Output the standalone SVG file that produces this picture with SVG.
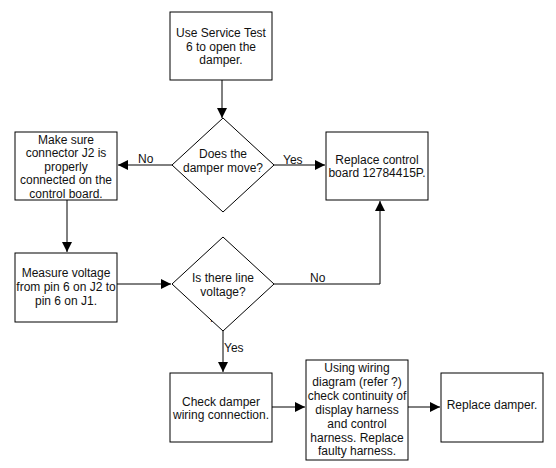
<svg xmlns="http://www.w3.org/2000/svg" width="556" height="468" viewBox="0 0 556 468">
<defs>
<marker id="ah" viewBox="0 0 10 10" refX="10" refY="5" markerWidth="10" markerHeight="10" markerUnits="userSpaceOnUse" orient="auto">
<path d="M0,0 L10,5 L0,10 Z" fill="#000"/>
</marker>
<style>
.n{fill:#fff;stroke:#000;stroke-width:1}
.t{font-family:"Liberation Sans",Arial,sans-serif;font-size:12px;fill:#111;text-anchor:middle}
.l{font-family:"Liberation Sans",Arial,sans-serif;font-size:12px;fill:#111}
.c{fill:none;stroke:#000;stroke-width:1}
</style>
</defs>
<rect width="556" height="468" fill="#fff"/>
<g id="connectors">
<line class="c" x1="222" y1="80" x2="222" y2="118" marker-end="url(#ah)"/>
<line class="c" x1="172" y1="165" x2="118" y2="165" marker-end="url(#ah)"/>
<line class="c" x1="274" y1="165" x2="325" y2="165" marker-end="url(#ah)"/>
<line class="c" x1="67" y1="200" x2="67" y2="252" marker-end="url(#ah)"/>
<line class="c" x1="117" y1="284" x2="171" y2="284" marker-end="url(#ah)"/>
<polyline class="c" points="274,284 380,284 380,201" marker-end="url(#ah)"/>
<line class="c" x1="223" y1="331" x2="223" y2="372" marker-end="url(#ah)"/>
<line class="c" x1="272" y1="407" x2="305" y2="407" marker-end="url(#ah)"/>
<line class="c" x1="408" y1="407" x2="440" y2="407" marker-end="url(#ah)"/>
<text class="l" x="138" y="163">No</text>
<text class="l" x="283" y="164">Yes</text>
<text class="l" x="310" y="282">No</text>
<text class="l" x="210" y="322">No</text>
<text class="l" x="224" y="352">Yes</text>
</g>
<g id="start">
<rect class="n" x="170" y="12" width="102" height="68"/>
<text class="t" x="221" y="36.5">Use Service Test</text>
<text class="t" x="221" y="50.5">6 to open the</text>
<text class="t" x="221" y="64">damper.</text>
</g>
<g id="d1">
<polygon class="n" points="223,118 274,165 223,212 172,165"/>
<text class="t" x="223" y="158">Does the</text>
<text class="t" x="223" y="171.5">damper move?</text>
</g>
<g id="checkJ2">
<rect class="n" x="15" y="132" width="102" height="68"/>
<text class="t" x="66" y="143.5">Make sure</text>
<text class="t" x="66" y="157">connector J2 is</text>
<text class="t" x="66" y="170.5">properly</text>
<text class="t" x="66" y="184">connected on the</text>
<text class="t" x="66" y="197.5">control board.</text>
</g>
<g id="replaceBoard">
<rect class="n" x="326" y="132" width="102" height="68"/>
<text class="t" x="377" y="163.5">Replace control</text>
<text class="t" x="377" y="177">board 12784415P.</text>
</g>
<g id="measure">
<rect class="n" x="15" y="253" width="102" height="69"/>
<text class="t" x="66" y="277">Measure voltage</text>
<text class="t" x="66" y="291">from pin 6 on J2 to</text>
<text class="t" x="66" y="305">pin 6 on J1.</text>
</g>
<g id="d2">
<polygon class="n" points="223,237 274,284 223,331 172,284"/>
<text class="t" x="223" y="281.5">Is there line</text>
<text class="t" x="223" y="295.5">voltage?</text>
</g>
<g id="checkWiring">
<rect class="n" x="170" y="373" width="102" height="69"/>
<text class="t" x="221" y="405.5">Check damper</text>
<text class="t" x="221" y="418.5">wiring connection.</text>
</g>
<g id="continuity">
<rect class="n" x="306" y="360" width="102" height="100"/>
<text class="t" x="357" y="372">Using wiring</text>
<text class="t" x="357" y="385.5">diagram (refer ?)</text>
<text class="t" x="357" y="399.5">check continuity of</text>
<text class="t" x="357" y="413.5">display harness</text>
<text class="t" x="357" y="427.5">and control</text>
<text class="t" x="357" y="441.5">harness.  Replace</text>
<text class="t" x="357" y="455">faulty harness.</text>
</g>
<g id="replaceDamper">
<rect class="n" x="441" y="373" width="102" height="69"/>
<text class="t" x="492" y="409">Replace damper.</text>
</g>
</svg>
